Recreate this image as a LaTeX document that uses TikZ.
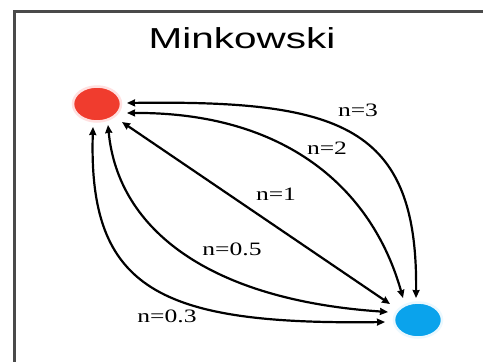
\documentclass[tikz,border=0pt]{standalone}
\usepackage{fontspec}
\setmainfont{Liberation Serif}
\newfontfamily\titlefont{Liberation Sans}
\usetikzlibrary{arrows.meta,shapes.geometric}
\definecolor{dotred}{HTML}{F03C2E}
\definecolor{dotblue}{HTML}{0AA3EC}
\definecolor{framegray}{HTML}{4A4A4A}
\begin{document}
\begin{tikzpicture}[x=1bp,y=-1bp,
  dot/.style={ellipse, minimum width=48bp, minimum height=35bp, inner sep=0pt, line width=2.5bp},
  link/.style={line width=2.2bp, {Stealth[length=8bp,width=7bp,inset=0.5bp]}-{Stealth[length=8bp,width=7bp,inset=0.5bp]}},
  lbl/.style={anchor=base, inner sep=0pt, font=\fontsize{19}{19}\selectfont},
  ttl/.style={anchor=base, inner sep=0pt, font=\titlefont\fontsize{29}{29}\selectfont}]
\useasboundingbox (0,0) rectangle (483,361);
\fill[white] (0,0) rectangle (483,361);
\draw[line width=3bp, framegray] (14,362) -- (14,11) -- (484,11);
\node[ttl] (title) at (242,48) {\scalebox{1.4}[1]{Minkowski}};
\node[dot, fill=dotred, draw=red!12] (red) at (97,104) {};
\node[dot, fill=dotblue, draw=cyan!8] (blue) at (418,320) {};
% n=3
\draw[link] ([shift={(30,-1)}]red.center) .. controls (340,100) and (418,125) .. ([shift={(-2,-22)}]blue.center);
% n=2
\draw[link] ([shift={(30,9)}]red.center) .. controls (285,112) and (372,188) .. ([shift={(-15,-22)}]blue.center);
% n=1
\draw[link] ([shift={(25,18)}]red.center) -- ([shift={(-28,-16)}]blue.center);
% n=0.5
\draw[link] ([shift={(11,21)}]red.center) .. controls (118,230) and (210,300) .. ([shift={(-30,-8)}]blue.center);
% n=0.3
\draw[link] ([shift={(-4,23)}]red.center) .. controls (88,290) and (160,325) .. ([shift={(-33,2)}]blue.center);
\node[lbl] (l3) at (358,116) {\scalebox{1.35}[1]{n=3}};
\node[lbl] (l2) at (327,154) {\scalebox{1.35}[1]{n=2}};
\node[lbl] (l1) at (276,200) {\scalebox{1.35}[1]{n=1}};
\node[lbl] (l05) at (232,255) {\scalebox{1.35}[1]{n=0.5}};
\node[lbl] (l03) at (167,322) {\scalebox{1.35}[1]{n=0.3}};
\end{tikzpicture}
\end{document}
